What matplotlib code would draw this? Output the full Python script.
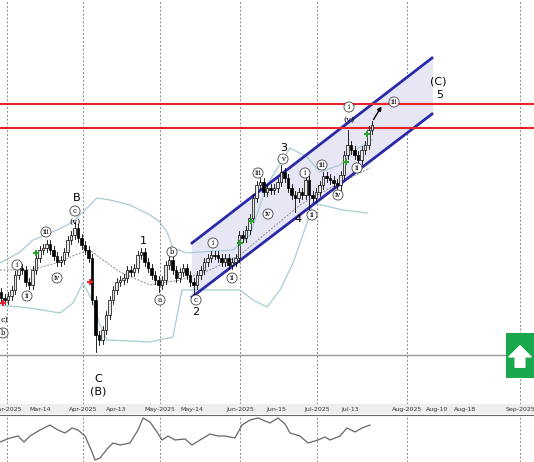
import matplotlib
matplotlib.use("Agg")
import matplotlib.pyplot as plt
import numpy as np

# closes in chart pixel units (y grows downward), one candle every 3.5 px
closes = [298,300,296,290,275,268,270,282,285,270,258,250,248,244,250,256,262,260,252,240,
          235,228,238,245,250,258,300,335,340,330,315,300,290,282,280,278,270,272,268,255,
          252,262,268,275,280,285,280,265,260,270,278,272,268,275,282,285,275,270,262,258,
          255,255,258,262,258,265,262,258,235,238,230,218,198,185,182,192,188,190,188,182,
          172,178,188,195,198,192,195,180,195,198,192,185,176,178,180,183,185,175,155,145,
          150,155,160,150,145,130,125]
first_open = 292
extremes = {21: (222, None), 27: (None, 352), 28: (None, 345), 40: (248, None), 45: (None, 292),
            55: (None, 298), 74: (178, None), 80: (165, None), 84: (None, 212), 97: (None, 190),
            99: (130, None), 88: (None, 212)}
date_labels = ["Mar-2025","Mar-14","Apr-2025","Apr-13","May-2025","May-14","Jun-2025","Jun-15",
               "Jul-2025","Jul-13","Aug-2025","Aug-10","Aug-18","Sep-2025"]
date_pos = [7,40,83,116,160,192,240,276,317,350,407,437,465,520]
month_pos = [7,83,160,240,317,407,520]
upper_x = [0,20,33,57,73,85,97,110,130,150,160,167,173,187,200,233,250,267,290,307,320,340,355,372]
upper_y = [263,252,240,230,222,210,198,200,205,215,222,232,248,253,252,250,235,185,148,157,172,165,150,140]
lower_x = [0,30,60,73,83,92,100,107,150,173,182,200,240,253,267,280,293,307,313,330,343,367]
lower_y = [305,308,313,303,283,300,325,340,342,337,290,290,290,300,307,290,263,223,203,207,210,213]
mid_x = [0,30,60,75,90,100,120,150,180,210,240,270,300,330,350,370]
mid_y = [270,270,262,255,250,258,272,285,280,270,255,230,205,188,178,168]
osc_x = [0,10,18,24,30,40,50,58,65,72,78,85,92,95,100,108,113,120,130,138,143,150,157,162,168,
         175,185,192,200,210,218,225,235,242,250,258,270,278,285,290,300,308,318,325,330,335,340,
         347,355,362,370]
osc_y = [442,438,436,442,436,430,425,430,433,428,430,436,452,460,458,448,443,445,443,430,418,
         422,432,440,436,440,439,445,440,434,436,436,438,425,420,418,423,418,424,433,436,443,440,
         437,440,438,436,428,432,428,425]
buy_x = [36,240,251,346,367]; buy_y = [253,243,221,162,134]
sell_x = [3,90]; sell_y = [303,282]

fig = plt.figure(figsize=(5.34, 4.62), dpi=100)
ax = fig.add_axes([0, 1-404/462, 1, 404/462])
ax.set_xlim(0, 534); ax.set_ylim(404, 0)
ax.axis("off")
for xp in month_pos:
    ax.axvline(xp, color="#888888", ls=(0, (2, 2)), lw=0.7, zorder=0)

# channel
cx = np.array([192, 432])
up = np.array([243, 58]); lo = np.array([297, 114])
ax.fill_between(cx, up, lo, color="#e6e6f5", zorder=1)
ax.plot(cx, up, color="#2a2aa8", lw=2, zorder=5)
ax.plot(cx, lo, color="#2a2aa8", lw=2, zorder=5)
for yy in (104, 128):
    ax.axhline(yy, color="#e8232a", lw=1.5, zorder=6)
ax.axhline(355, color="#999999", lw=1, zorder=2)

ax.plot(upper_x, upper_y, color="#a8ccd4", lw=0.9, zorder=2)
ax.plot(lower_x, lower_y, color="#a8ccd4", lw=0.9, zorder=2)
ax.plot(mid_x, mid_y, color="#888888", lw=0.7, ls=(0, (2, 1.5)), zorder=2)

opens = [first_open] + closes[:-1]
for i, (o, c) in enumerate(zip(opens, closes)):
    x = 1 + 3.5 * i
    hi = min(o, c) - 4; lw_ = max(o, c) + 4
    if i in extremes:
        h, l = extremes[i]
        hi = h if h is not None else hi
        lw_ = l if l is not None else lw_
    ax.plot([x, x], [hi, lw_], color="black", lw=0.6, zorder=7)
    fc = "#e8e8e8" if c < o else "black"
    ax.add_patch(plt.Rectangle((x-1.4, min(o, c)), 2.8, max(abs(c-o), 1),
                               facecolor=fc, edgecolor="black", lw=0.5, zorder=8))
ax.scatter(buy_x, buy_y, marker="P", s=14, color="#2ca02c", zorder=9, linewidths=0)
ax.scatter(sell_x, sell_y, marker="P", s=14, color="#e8232a", zorder=9, linewidths=0)

ax.annotate("", xy=(383, 104), xytext=(372, 122),
            arrowprops=dict(arrowstyle="-|>", color="black", lw=1, mutation_scale=6), zorder=9)

circ = [(3,333,"b"),(17,265,"i"),(27,296,"ii"),(46,232,"iii"),(57,278,"iv"),(75,211,"c"),
        (160,300,"a"),(172,252,"b"),(196,300,"c"),(213,243,"i"),(232,278,"ii"),(258,173,"iii"),
        (268,214,"iv"),(283,159,"v"),(305,173,"i"),(312,215,"ii"),(322,165,"iii"),(338,195,"iv"),
        (357,168,"ii"),(349,107,"i"),(394,102,"iii")]
for x, y, t in circ:
    ax.text(x, y, t, fontsize=5, ha="center", va="center", family="DejaVu Serif", zorder=10,
            bbox=dict(boxstyle="circle,pad=0.15", fc="white", ec="#444444", lw=0.6))
for x, y, t in [(5,320,"c)"),(75,222,"(v)"),(349,120,"(v)")]:
    ax.text(x, y, t, fontsize=6, ha="center", va="center", family="DejaVu Serif", zorder=10)
for x, y, t in [(77,198,"B"),(143,241,"1"),(196,312,"2"),(284,148,"3"),(298,219,"4"),
                (98,379,"C"),(98,392,"(B)"),(438,82,"(C)"),(440,95,"5")]:
    ax.text(x, y, t, fontsize=8, ha="center", va="center", zorder=10)

ax.add_patch(plt.Rectangle((506, 333), 28, 45, facecolor="#19a84b", edgecolor="none", zorder=10))
ax.annotate("", xy=(520, 343), xytext=(520, 370),
            arrowprops=dict(arrowstyle="simple,head_width=1.6,head_length=0.8,tail_width=0.7",
                            fc="white", ec="white"), zorder=11)

# date axis
dx = fig.add_axes([0, 1-414/462, 1, 10/462])
dx.set_xlim(0, 534); dx.set_ylim(0, 1); dx.axis("off")
dx.add_patch(plt.Rectangle((0, 0), 534, 1, facecolor="#eeeeee", edgecolor="none"))
for p, l in zip(date_pos, date_labels):
    dx.text(p, 0.45, l, fontsize=4.5, ha="center", va="center", color="#333333")

ox = fig.add_axes([0, 0, 1, 47/462])
ox.set_xlim(0, 534); ox.set_ylim(462, 415); ox.axis("off")
for xp in month_pos:
    ox.axvline(xp, color="#888888", ls=(0, (2, 2)), lw=0.7)
ox.plot(osc_x, osc_y, color="#666666", lw=0.9)
ox.axhline(415.5, color="#666666", lw=0.8)

fig.savefig("out.png", dpi=100)
